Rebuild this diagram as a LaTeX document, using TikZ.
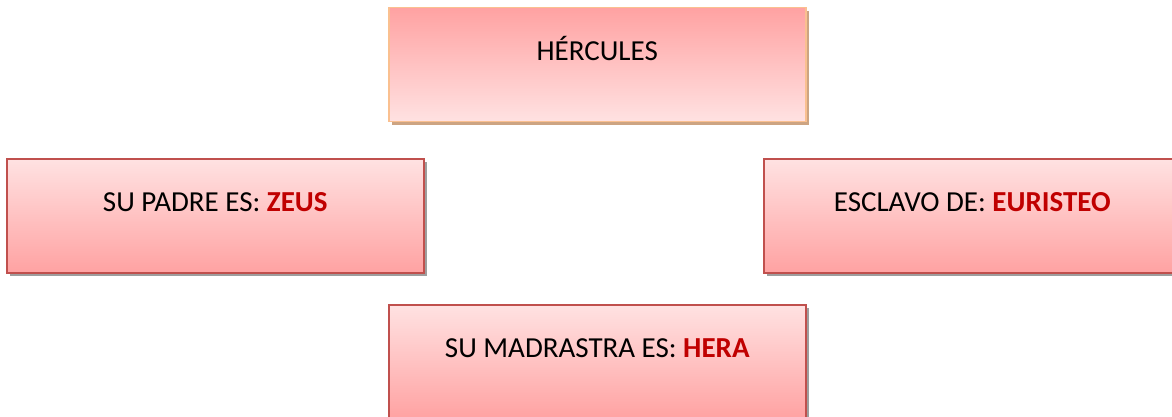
\documentclass[tikz,border=0pt]{standalone}
\usepackage{fontspec}
\setmainfont{Carlito}
\usetikzlibrary{shadows}
\definecolor{boxred}{HTML}{C0504D}
\definecolor{boxorange}{HTML}{FAC090}
\definecolor{shadowtan}{HTML}{CDA482}
\definecolor{namered}{HTML}{C00000}
\definecolor{pinklight}{HTML}{FFE2E2}
\definecolor{pinkdark}{HTML}{FFA2A2}
\tikzset{
  card/.style={rectangle,anchor=north west,inner sep=0pt,line width=1.5pt,
    minimum width=417pt,text height=53pt,text depth=61pt,
    font=\fontsize{29}{33}\selectfont},
  redcard/.style={card,draw=boxred,top color=pinklight,bottom color=pinkdark,
    drop shadow={shadow xshift=3pt,shadow yshift=-3pt,fill=black!38,opacity=1}},
  orangecard/.style={card,draw=boxorange,top color=pinkdark,bottom color=pinklight,
    drop shadow={shadow xshift=3pt,shadow yshift=-3pt,fill=shadowtan,opacity=1}}
}
\newcommand{\godname}[1]{\textcolor{namered}{\bfseries #1}}
\begin{document}
\begin{tikzpicture}[x=1pt,y=-1pt]
\useasboundingbox (0,0) rectangle (1172,417);
\clip (0,0) rectangle (1172,417);
\coordinate (a) at (388,7);
\coordinate (b) at (6,158);
\coordinate (c) at (763,158);
\coordinate (d) at (388,304);
\node[orangecard] (hercules) at (a) {HÉRCULES};
\node[redcard] (padre) at (b) {SU PADRE ES: \godname{ZEUS}};
\node[redcard] (esclavo) at (c) {ESCLAVO DE: \godname{EURISTEO}};
\node[redcard] (madrastra) at (d) {SU MADRASTRA ES: \godname{HERA}};
\end{tikzpicture}
\end{document}
